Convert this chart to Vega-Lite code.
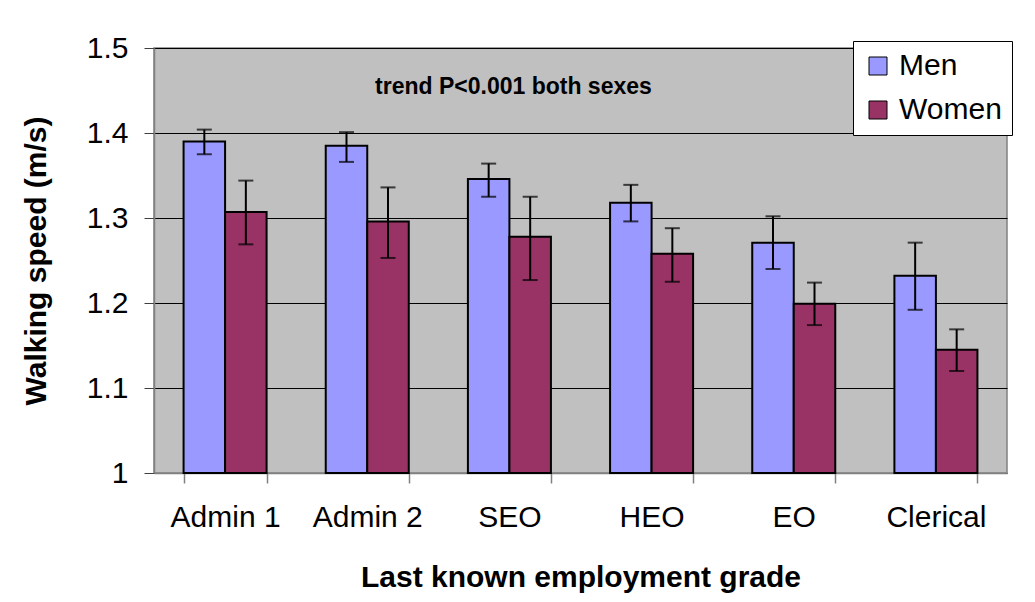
{
  "$schema": "https://vega.github.io/schema/vega-lite/v6.json",
  "width": 853,
  "height": 425,
  "autosize": {"type": "none"},
  "padding": {"left": 154, "top": 48, "right": 28, "bottom": 129},
  "background": "white",
  "config": {
    "font": "Liberation Sans",
    "view": {"fill": "#C0C0C0", "stroke": "#808080", "strokeWidth": 1.5},
    "axis": {"labelFontSize": 30, "titleFontSize": 30, "labelColor": "black", "titleColor": "black", "labelFont": "Liberation Sans", "titleFont": "Liberation Sans", "titleFontWeight": "bold"}
  },
  "data": {
    "values": [
      {"grade": "Admin 1", "sex": "Men", "speed": 1.390, "lo": 1.375, "hi": 1.404},
      {"grade": "Admin 1", "sex": "Women", "speed": 1.307, "lo": 1.269, "hi": 1.344},
      {"grade": "Admin 2", "sex": "Men", "speed": 1.385, "lo": 1.366, "hi": 1.401},
      {"grade": "Admin 2", "sex": "Women", "speed": 1.296, "lo": 1.253, "hi": 1.336},
      {"grade": "SEO", "sex": "Men", "speed": 1.346, "lo": 1.325, "hi": 1.364},
      {"grade": "SEO", "sex": "Women", "speed": 1.278, "lo": 1.227, "hi": 1.325},
      {"grade": "HEO", "sex": "Men", "speed": 1.318, "lo": 1.296, "hi": 1.339},
      {"grade": "HEO", "sex": "Women", "speed": 1.258, "lo": 1.225, "hi": 1.288},
      {"grade": "EO", "sex": "Men", "speed": 1.271, "lo": 1.240, "hi": 1.302},
      {"grade": "EO", "sex": "Women", "speed": 1.199, "lo": 1.174, "hi": 1.224},
      {"grade": "Clerical", "sex": "Men", "speed": 1.232, "lo": 1.192, "hi": 1.271},
      {"grade": "Clerical", "sex": "Women", "speed": 1.145, "lo": 1.120, "hi": 1.169}
    ]
  },
  "layer": [
    {
      "mark": {"type": "bar", "stroke": "black", "strokeWidth": 2},
      "encoding": {
        "x": {
          "field": "grade", "type": "nominal", "sort": null,
          "scale": {"paddingInner": 0.416, "paddingOuter": 0.208},
          "axis": {"title": "Last known employment grade", "labelAngle": 0, "labelPadding": 19, "titlePadding": 30, "tickBand": "extent", "tickSize": 10, "tickColor": "#808080", "domainColor": "#808080", "domainWidth": 1.5, "tickWidth": 1.5, "grid": false}
        },
        "xOffset": {"field": "sex", "type": "nominal", "sort": ["Men", "Women"]},
        "y": {
          "field": "speed", "type": "quantitative",
          "scale": {"domain": [1, 1.5], "zero": false},
          "axis": {"title": "Walking speed (m/s)", "values": [1, 1.1, 1.2, 1.3, 1.4, 1.5], "format": "~g", "tickSize": 10, "tickColor": "#404040", "domainColor": "#808080", "domainWidth": 1.5, "gridColor": "black", "gridWidth": 1, "labelPadding": 16, "titlePadding": 35}
        },
        "y2": {"datum": 1},
        "color": {
          "field": "sex", "type": "nominal",
          "scale": {"domain": ["Men", "Women"], "range": ["#9999FF", "#993366"]},
          "legend": {"title": null, "orient": "none", "legendX": 699, "legendY": -7, "direction": "vertical", "fillColor": "white", "strokeColor": "black", "padding": 10, "labelFontSize": 30, "labelFont": "Liberation Sans", "labelColor": "black", "symbolType": "square", "symbolSize": 324, "symbolStrokeColor": "black", "symbolStrokeWidth": 1, "symbolOpacity": 1, "rowPadding": 14, "labelOffset": 6}
        }
      }
    },
    {
      "mark": {"type": "rule", "color": "black", "strokeWidth": 2},
      "encoding": {
        "x": {"field": "grade", "type": "nominal", "sort": null},
        "xOffset": {"field": "sex", "type": "nominal", "sort": ["Men", "Women"]},
        "y": {"field": "lo", "type": "quantitative"},
        "y2": {"field": "hi"}
      }
    },
    {
      "mark": {"type": "tick", "color": "black", "thickness": 2, "size": 15, "orient": "horizontal"},
      "encoding": {
        "x": {"field": "grade", "type": "nominal", "sort": null},
        "xOffset": {"field": "sex", "type": "nominal", "sort": ["Men", "Women"]},
        "y": {"field": "lo", "type": "quantitative"}
      }
    },
    {
      "mark": {"type": "tick", "color": "black", "thickness": 2, "size": 15, "orient": "horizontal"},
      "encoding": {
        "x": {"field": "grade", "type": "nominal", "sort": null},
        "xOffset": {"field": "sex", "type": "nominal", "sort": ["Men", "Women"]},
        "y": {"field": "hi", "type": "quantitative"}
      }
    },
    {
      "data": {"values": [{"note": "trend P<0.001 both sexes"}]},
      "mark": {"type": "text", "fontSize": 23, "fontWeight": "bold", "color": "black", "font": "Liberation Sans", "dx": 4, "dy": 1},
      "encoding": {
        "x": {"datum": "SEO"},
        "y": {"datum": 1.455},
        "text": {"field": "note"}
      }
    }
  ]
}
